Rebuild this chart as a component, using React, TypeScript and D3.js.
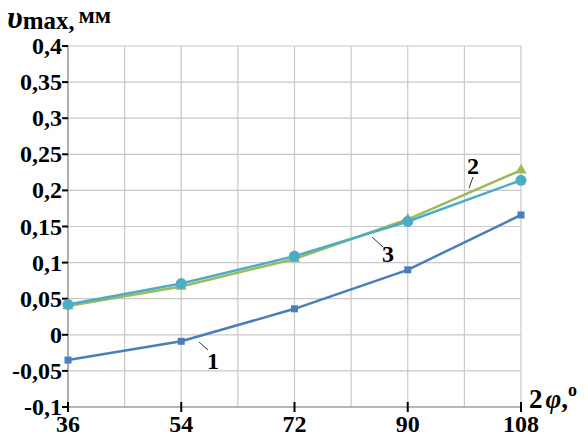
import React from "react";
import * as d3 from "d3";

const W = 588;
const H = 436;
const MARGIN = { top: 46, right: 67, bottom: 29, left: 68 };

const angles = [36, 54, 72, 90, 108];
const curve1 = [-0.035, -0.009, 0.036, 0.09, 0.166];
const curve2 = [0.04, 0.067, 0.105, 0.16, 0.228];
const curve3 = [0.042, 0.071, 0.109, 0.157, 0.214];

const xTicks = [36, 54, 72, 90, 108];
const xGrid = [36, 45, 54, 63, 72, 81, 90, 99, 108];
const yTicks = [-0.1, -0.05, 0, 0.05, 0.1, 0.15, 0.2, 0.25, 0.3, 0.35, 0.4];

const BLUE = "#4a7ebb";
const GREEN = "#9bbb59";
const CYAN = "#4bacc6";
const FONT = "Liberation Serif";

const fmt = (v: number) => {
  if (Math.abs(v) < 1e-9) return "0";
  return String(+v.toFixed(2)).replace(".", ",");
};

export default function App() {
  const x = d3
    .scaleLinear()
    .domain([36, 108])
    .range([MARGIN.left, W - MARGIN.right]);
  const y = d3
    .scaleLinear()
    .domain([-0.1, 0.4])
    .range([H - MARGIN.bottom, MARGIN.top]);

  const line = d3
    .line<number>()
    .x((_, i) => x(angles[i]))
    .y((d) => y(d));

  const tri = d3.symbol(d3.symbolTriangle, 55)()!;

  const x0 = x(36);
  const x1 = x(108);
  const y0 = y(-0.1);
  const y1 = y(0.4);

  return (
    <svg
      width={W}
      height={H}
      style={{ position: "absolute", left: 0, top: 0, background: "#fff" }}
    >
      {/* grid */}
      {xGrid.map((t) => (
        <line key={"gx" + t} x1={x(t)} x2={x(t)} y1={y1} y2={y0} stroke="#c8c8c8" strokeWidth={1.2} />
      ))}
      {yTicks.map((t) => (
        <line key={"gy" + t} x1={x0} x2={x1} y1={y(t)} y2={y(t)} stroke="#c8c8c8" strokeWidth={1.2} />
      ))}
      {/* axes */}
      <line x1={x0} x2={x0} y1={y1} y2={y0} stroke="#8c8c8c" strokeWidth={1.2} />
      <line x1={x0} x2={x1} y1={y0} y2={y0} stroke="#8c8c8c" strokeWidth={1.2} />
      {yTicks.map((t) => (
        <g key={"ty" + t}>
          <line x1={x0 - 6} x2={x0} y1={y(t)} y2={y(t)} stroke="#000" strokeWidth={2} />
          <text
            x={x0 - 6}
            y={y(t) + 8}
            textAnchor="end"
            fontFamily={FONT}
            fontWeight="bold"
            fontSize={24}
          >
            {fmt(t)}
          </text>
        </g>
      ))}
      {xTicks.map((t) => (
        <g key={"tx" + t}>
          <line x1={x(t)} x2={x(t)} y1={y0 - 5} y2={y0 + 5} stroke="#000" strokeWidth={2} />
          <text
            x={x(t)}
            y={y0 + 25}
            textAnchor="middle"
            fontFamily={FONT}
            fontWeight="bold"
            fontSize={24}
          >
            {t}
          </text>
        </g>
      ))}

      {/* series */}
      <path d={line(curve1)!} fill="none" stroke={BLUE} strokeWidth={2.5} />
      <path d={line(curve2)!} fill="none" stroke={GREEN} strokeWidth={2.5} />
      <path d={line(curve3)!} fill="none" stroke={CYAN} strokeWidth={2.5} />
      {curve1.map((v, i) => (
        <rect key={"m1" + i} x={x(angles[i]) - 3.5} y={y(v) - 3.5} width={7} height={7} fill={BLUE} />
      ))}
      {curve2.map((v, i) => (
        <path key={"m2" + i} d={tri} transform={`translate(${x(angles[i])},${y(v)})`} fill={GREEN} />
      ))}
      {curve3.map((v, i) => (
        <circle key={"m3" + i} cx={x(angles[i])} cy={y(v)} r={5.5} fill={CYAN} />
      ))}

      {/* curve labels */}
      <g fontFamily={FONT} fontWeight="bold" fontSize={24}>
        <line x1={199} y1={342} x2={208} y2={350} stroke="#333" strokeWidth={1} />
        <text x={207} y={369}>1</text>
        <line x1={469} y1={188} x2={473} y2={177} stroke="#333" strokeWidth={1} />
        <text x={467} y={174}>2</text>
        <line x1={372} y1={237} x2={383} y2={247} stroke="#333" strokeWidth={1} />
        <text x={382} y={262}>3</text>
      </g>

      {/* axis titles */}
      <text x={7} y={28} fontFamily={FONT} fontWeight="bold">
        <tspan fontSize={32} fontStyle="italic">υ</tspan>
        <tspan fontSize={25} dy={1}>max</tspan>
        <tspan fontSize={24}>,</tspan>
        <tspan fontSize={24} dx={4} dy={-6}>мм</tspan>
      </text>
      <text x={529} y={408} fontFamily={FONT} fontWeight="bold" fontSize={27}>
        <tspan>2</tspan>
        <tspan fontStyle="italic" dx={3}>φ</tspan>
        <tspan>,</tspan>
        <tspan fontSize={18} dy={-12}>o</tspan>
      </text>
    </svg>
  );
}
